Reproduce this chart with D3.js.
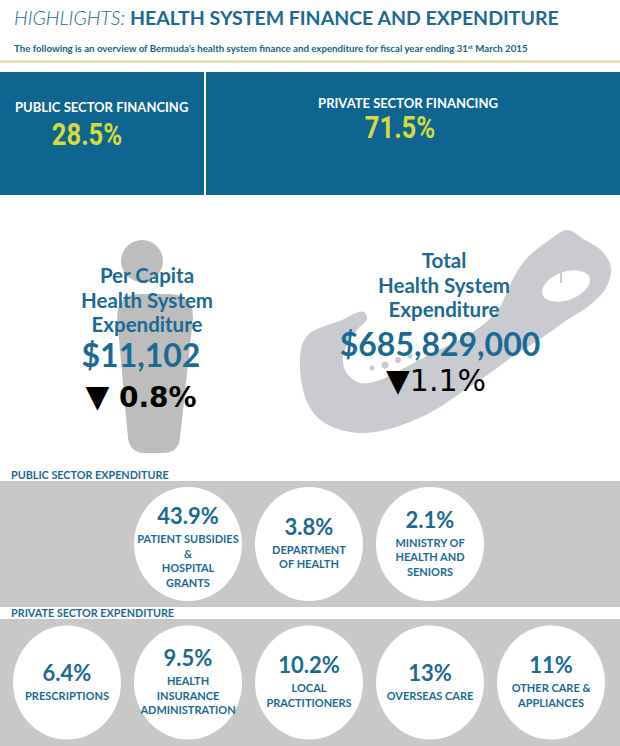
<!DOCTYPE html>
<html>
<head>
<meta charset="utf-8">
<script src="https://cdn.jsdelivr.net/npm/d3@7"></script>
<style>
  body { margin: 0; background: #fff; }
  svg { display: block; font-family: Lato, "Open Sans", "DejaVu Sans", sans-serif; }
</style>
</head>
<body>
<div id="wrapper"></div>
<script>
const titleParts = ["HIGHLIGHTS:", "HEALTH SYSTEM FINANCE AND EXPENDITURE"];
const subtitleParts = ["The following is an overview of Bermuda\u2019s health system finance and expenditure for fiscal year ending 31", "st", " March 2015"];

const financeLabels = ["PUBLIC SECTOR FINANCING", "PRIVATE SECTOR FINANCING"];
const financeShares = [28.5, 71.5];

const perCapitaTitle = ["Per Capita", "Health System", "Expenditure"];
const perCapitaValue = 11102;
const perCapitaChange = 0.8;   // decrease

const totalTitle = ["Total", "Health System", "Expenditure"];
const totalValue = 685829000;
const totalChange = 1.1;       // decrease

const sectionTitles = ["PUBLIC SECTOR EXPENDITURE", "PRIVATE SECTOR EXPENDITURE"];

const publicShares = [43.9, 3.8, 2.1];
const publicLabels = [
  ["PATIENT SUBSIDIES", "&", "HOSPITAL", "GRANTS"],
  ["DEPARTMENT", "OF HEALTH"],
  ["MINISTRY OF", "HEALTH AND", "SENIORS"]
];

const privateShares = [6.4, 9.5, 10.2, 13, 11];
const privateLabels = [
  ["PRESCRIPTIONS"],
  ["HEALTH", "INSURANCE", "ADMINISTRATION"],
  ["LOCAL", "PRACTITIONERS"],
  ["OVERSEAS CARE"],
  ["OTHER CARE &", "APPLIANCES"]
];

// rough outline of Bermuda (local units, decorative only)
const bermudaOutline = [
  [267,0],[285,10],[303,22],[311,38],[306,58],[290,75],[267,90],[243,107],[215,125],
  [190,143],[162,162],[135,180],[110,192],[85,200],[60,203],[35,198],[18,188],[7,172],
  [2,155],[0,135],[2,115],[10,103],[25,96],[42,90],[56,83],[64,82],[67,89],[57,100],
  [48,113],[43,127],[46,142],[60,153],[80,150],[100,140],[125,127],[155,112],[180,97],
  [198,80],[207,62],[215,45],[228,27],[248,11]
];
const bermudaIslets = [[85,135,3.5],[98,130,3],[72,138,2.5],[110,126,2.5]];

// ---- colours ----
const BLUE = "#1a6a94";
const BOX = "#0e6590";
const YELLOW = "#d3dc3a";
const BAND = "#c8c8c8";
const MAPGREY = "#c9cbd0";

const fmtPct = d => (Number.isInteger(d) ? d : d.toFixed(1)) + "%";
const fmtMoney = d3.format("$,");

const svg = d3.select("#wrapper")
  .append("svg")
  .attr("width", 620)
  .attr("height", 746);

// ---- header ----
const head = svg.append("text")
  .attr("x", 14).attr("y", 25)
  .attr("fill", BLUE)
  .style("font-size", "19.5px");
head.append("tspan").text(titleParts[0])
  .style("font-style", "italic").style("font-weight", 300);
head.append("tspan").text(" " + titleParts[1])
  .style("font-weight", 700);

const sub = svg.append("text")
  .attr("x", 14).attr("y", 52)
  .attr("fill", "#1b5f86")
  .style("font-size", "9.7px")
  .style("font-weight", 700);
sub.append("tspan").text(subtitleParts[0]);
sub.append("tspan").text(subtitleParts[1]).attr("dy", -3.5).style("font-size", "6px");
sub.append("tspan").text(subtitleParts[2]).attr("dy", 3.5);

svg.append("rect")
  .attr("x", 0).attr("y", 60.5).attr("width", 620).attr("height", 2)
  .attr("fill", "#e6da8c");

// ---- financing boxes ----
const boxes = [
  {x: 0, w: 204, lx: 15, anchor: "start", ly: 112, vx: 87, vy: 145},
  {x: 206, w: 414, lx: 408, anchor: "middle", ly: 108, vx: 400, vy: 138}
];
const fin = svg.append("g").selectAll("g")
  .data(financeShares.map((v, i) => ({v, label: financeLabels[i], b: boxes[i]})))
  .join("g");
fin.append("rect")
  .attr("x", d => d.b.x).attr("y", 72)
  .attr("width", d => d.b.w).attr("height", 123)
  .attr("fill", BOX);
fin.append("text")
  .attr("x", d => d.b.lx).attr("y", d => d.b.ly)
  .attr("text-anchor", d => d.b.anchor)
  .attr("fill", "#fff")
  .style("font-size", "13px").style("font-weight", 700)
  .text(d => d.label);
fin.append("text")
  .attr("transform", d => `translate(${d.b.vx},${d.b.vy}) scale(0.8,1)`)
  .attr("text-anchor", "middle")
  .attr("fill", YELLOW)
  .style("font-family", "Roboto, sans-serif")
  .style("font-size", "32px").style("font-weight", 700)
  .text(d => fmtPct(d.v));

// ---- per capita figure ----
const person = svg.append("g").attr("fill", "#bdbdbd");
person.append("circle").attr("cx", 142).attr("cy", 261).attr("r", 21);
const body = d3.path();
body.moveTo(117, 318);
body.quadraticCurveTo(117, 294, 141, 294);
body.lineTo(169, 294);
body.quadraticCurveTo(193, 294, 193, 318);
body.lineTo(180, 438);
body.quadraticCurveTo(178, 453, 163, 453);
body.lineTo(145, 453);
body.quadraticCurveTo(130, 453, 128, 438);
body.closePath();
person.append("path").attr("d", body.toString());

// ---- Bermuda map ----
const mx = d3.scaleLinear().domain([0, 311]).range([300, 611]);
const my = d3.scaleLinear().domain([0, 203]).range([230, 433]);
const map = svg.append("g");
map.append("path")
  .attr("d", d3.line().x(d => mx(d[0])).y(d => my(d[1])).curve(d3.curveCatmullRomClosed.alpha(0.5))(bermudaOutline))
  .attr("fill", MAPGREY);
map.append("ellipse")
  .attr("cx", mx(266)).attr("cy", my(56)).attr("rx", 25).attr("ry", 14)
  .attr("transform", `rotate(-20,${mx(266)},${my(56)})`)
  .attr("fill", "#fff");
map.append("rect")
  .attr("x", mx(260)).attr("y", my(38)).attr("width", 2).attr("height", 15)
  .attr("fill", MAPGREY);
map.selectAll("circle.islet").data(bermudaIslets).join("circle")
  .attr("class", "islet")
  .attr("cx", d => mx(d[0])).attr("cy", d => my(d[1])).attr("r", d => d[2])
  .attr("fill", MAPGREY);

// ---- headline numbers ----
function headline(opt) {
  const g = svg.append("g");
  g.selectAll("text.t").data(opt.lines).join("text")
    .attr("class", "t")
    .attr("x", opt.cx).attr("y", (d, i) => opt.y0 + i * 24.5)
    .attr("text-anchor", "middle")
    .attr("fill", BLUE)
    .style("font-size", "20.5px").style("font-weight", 700)
    .text(d => d);
  g.append("text")
    .attr("x", opt.vcx).attr("y", opt.vy)
    .attr("text-anchor", "middle")
    .attr("fill", BLUE)
    .style("font-size", "32px").style("font-weight", 700)
    .text(fmtMoney(opt.value));
  const ch = g.append("text")
    .attr("x", opt.ccx).attr("y", opt.cy)
    .attr("text-anchor", "middle")
    .attr("fill", "#000")
    .style("font-family", "'DejaVu Sans', sans-serif")
    .style("font-weight", opt.cweight);
  ch.append("tspan").text("\u25BC").style("font-size", "31px").style("font-weight", 400);
  ch.append("tspan").text(opt.sep + fmtPct(opt.change)).style("font-size", opt.csize);
}
headline({cx: 147, lines: perCapitaTitle, y0: 283, value: perCapitaValue, vy: 367, vcx: 141,
  change: perCapitaChange, cy: 407, ccx: 141, sep: " ", csize: "28px", cweight: 700});
headline({cx: 444, lines: totalTitle, y0: 268, value: totalValue, vy: 356, vcx: 440,
  change: totalChange, cy: 391, ccx: 436, sep: "", csize: "30px", cweight: 400});

// ---- expenditure bands ----
const xPos = d3.scalePoint().domain(d3.range(5)).range([67, 551]);

function section(title, ty, bandY, bandH, shares, labels, offset) {
  svg.append("text")
    .attr("x", 11).attr("y", ty)
    .attr("fill", BLUE)
    .style("font-size", "10.8px").style("font-weight", 700)
    .text(title);
  svg.append("rect")
    .attr("x", 0).attr("y", bandY).attr("width", 620).attr("height", bandH)
    .attr("fill", BAND);
  const cy = bandY + bandH / 2;
  const nodes = svg.append("g").selectAll("g")
    .data(shares.map((v, i) => ({v, lines: labels[i], i})))
    .join("g")
    .attr("transform", d => `translate(${xPos(d.i + offset)},${cy})`);
  nodes.append("ellipse").attr("rx", 54).attr("ry", 57).attr("fill", "#fff");
  nodes.each(function(d) {
    const n = d.lines.length;
    const top = -(15 + 19 + 14.5 * (n - 1)) / 2 + (n > 3 ? 4 : 0);
    const el = d3.select(this);
    el.append("text")
      .attr("y", top + 15)
      .attr("text-anchor", "middle")
      .attr("fill", BLUE)
      .style("font-size", "22px").style("font-weight", 700)
      .text(fmtPct(d.v));
    el.selectAll("text.lbl").data(d.lines).join("text")
      .attr("class", "lbl")
      .attr("y", (l, j) => top + 34 + 14.5 * j)
      .attr("text-anchor", "middle")
      .attr("fill", BLUE)
      .style("font-size", "11px").style("font-weight", 700)
      .text(l => l);
  });
}
section(sectionTitles[0], 479, 481, 126, publicShares, publicLabels, 1);
section(sectionTitles[1], 617, 619, 127, privateShares, privateLabels, 0);
</script>
</body>
</html>
